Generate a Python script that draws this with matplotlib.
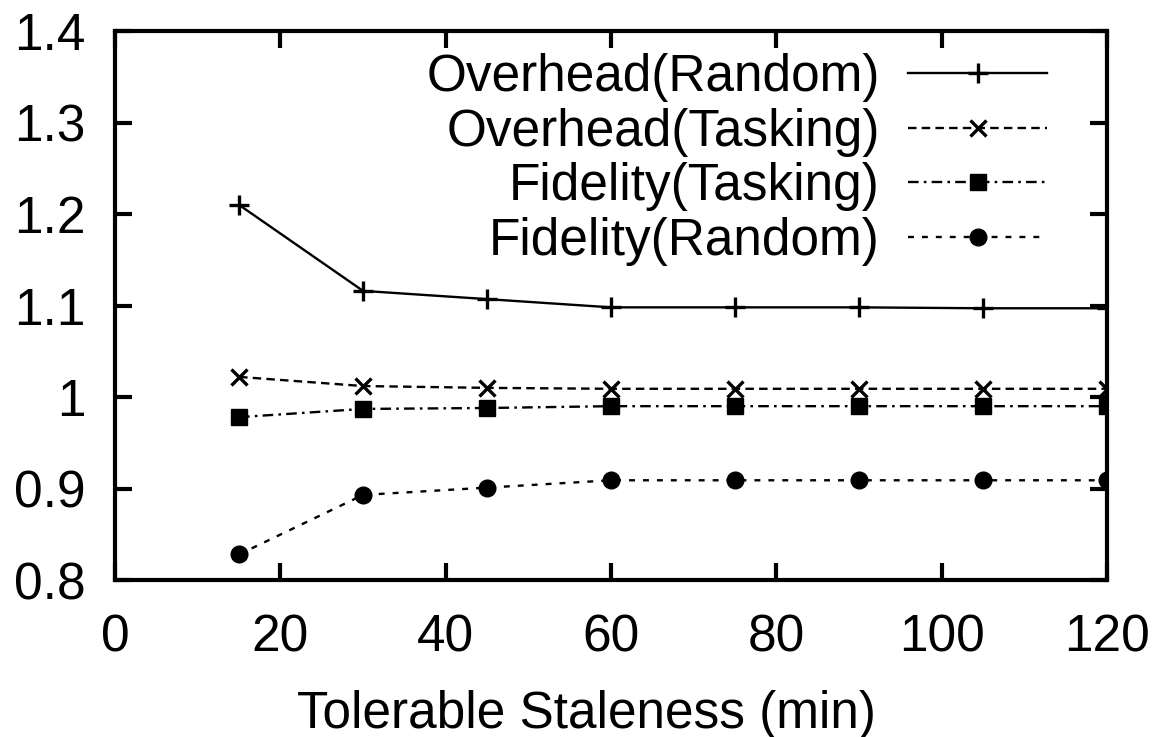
import matplotlib
matplotlib.use("Agg")
import matplotlib.pyplot as plt
from matplotlib.ticker import FuncFormatter

plt.rcParams['font.family'] = ['Liberation Sans', 'DejaVu Sans']

# tolerable staleness (min)
staleness = [15, 30, 45, 60, 75, 90, 105, 120]

overhead_random = [1.210, 1.116, 1.107, 1.098, 1.098, 1.098, 1.097, 1.097]
overhead_tasking = [1.022, 1.012, 1.010, 1.009, 1.009, 1.009, 1.009, 1.009]
fidelity_tasking = [0.978, 0.987, 0.988, 0.990, 0.990, 0.990, 0.990, 0.990]
fidelity_random = [0.828, 0.893, 0.901, 0.909, 0.909, 0.909, 0.909, 0.909]

x_ticks = [0, 20, 40, 60, 80, 100, 120]
y_ticks = [0.8, 0.9, 1.0, 1.1, 1.2, 1.3, 1.4]

FS = 37

fig = plt.figure(figsize=(11.61, 7.37), dpi=100)
ax = fig.add_axes([0.0991, 0.2130, 0.8544, 0.7449])

lw = 1.7
ax.plot(staleness, overhead_random, color='black', lw=lw, linestyle='-',
        marker='+', markersize=15, markeredgewidth=2.4, label='Overhead(Random)')
ax.plot(staleness, overhead_tasking, color='black', lw=lw, linestyle=(0, (3.6, 2.2)),
        marker='x', markersize=11, markeredgewidth=2.4, label='Overhead(Tasking)')
ax.plot(staleness, fidelity_tasking, color='black', lw=lw, linestyle=(0, (4.5, 2.2, 1.1, 2.2)),
        marker='s', markersize=12, label='Fidelity(Tasking)')
ax.plot(staleness, fidelity_random, color='black', lw=lw, linestyle=(0, (2.5, 3.4)),
        marker='o', markersize=12, label='Fidelity(Random)')

ax.set_xlim(0, 120)
ax.set_ylim(0.8, 1.4)
ax.set_xticks(x_ticks)
ax.set_yticks(y_ticks)
ax.yaxis.set_major_formatter(FuncFormatter(lambda v, p: '%g' % round(v, 2)))

for s in ax.spines.values():
    s.set_linewidth(3)
ax.tick_params(direction='in', length=12, width=3, top=True, right=True,
               labelsize=FS)
ax.tick_params(axis='y', pad=21)
ax.tick_params(axis='x', pad=24)

ax.set_xlabel('Tolerable Staleness (min)', fontsize=FS, va='center')
ax.xaxis.set_label_coords(0.475, -0.245)

leg = ax.legend(loc='upper right', bbox_to_anchor=(0.9395, 0.96), frameon=False,
                markerfirst=False, fontsize=FS, handlelength=2.7,
                handletextpad=0.55, labelspacing=0.11, borderaxespad=0,
                borderpad=0)
for t in leg.get_texts():
    t.set_ha('right')

fig.savefig('out.png', dpi=100)
